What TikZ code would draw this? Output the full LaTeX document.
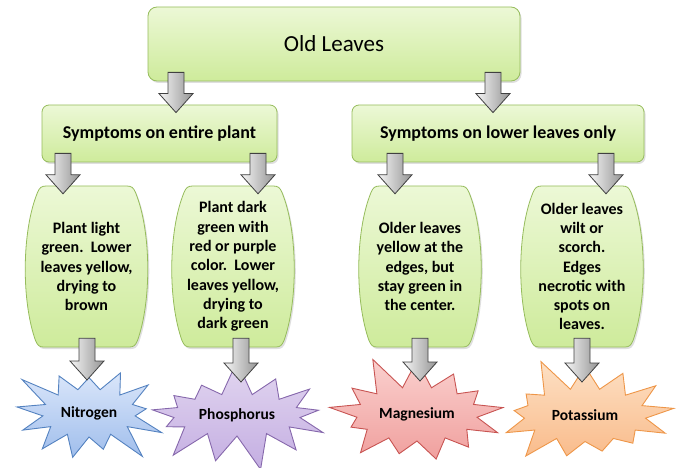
\documentclass[tikz,border=0pt]{standalone}
\usepackage{fontspec}
\setmainfont{Carlito}
\usetikzlibrary{calc,shapes.symbols,backgrounds,shadows}

\definecolor{leaftop}{RGB}{236,248,214}
\definecolor{leafbot}{RGB}{206,235,155}
\definecolor{leafedge}{RGB}{150,188,92}
\definecolor{nitrotop}{RGB}{218,230,250}
\definecolor{nitrobot}{RGB}{160,190,236}
\definecolor{nitroedge}{RGB}{84,130,192}
\definecolor{phostop}{RGB}{226,214,240}
\definecolor{phosbot}{RGB}{196,174,226}
\definecolor{phosedge}{RGB}{134,104,172}
\definecolor{magntop}{RGB}{250,208,206}
\definecolor{magnbot}{RGB}{240,160,158}
\definecolor{magnedge}{RGB}{200,84,82}
\definecolor{potastop}{RGB}{253,224,196}
\definecolor{potasbot}{RGB}{249,188,140}
\definecolor{potasedge}{RGB}{238,150,72}

% block arrow from the foot of one node to a point on the next
\newcommand{\bigarrow}[4][8]{%
  \draw[blockarrow] let \p1=(#2.south), \p2=($(#3)+(0,#1)$) in
    (#4pt-8pt,\y1+9pt) -- (#4pt+8pt,\y1+9pt) -- (#4pt+8pt,\y2+19pt)
    -- (#4pt+17pt,\y2+19pt) -- (#4pt,\y2)
    -- (#4pt-17pt,\y2+19pt) -- (#4pt-8pt,\y2+19pt) -- cycle;}

% barrel outline behind a symptom node
\newcommand{\barrel}[1]{%
  \begin{scope}[on background layer]
    \draw[barrelline] ($(#1)+(-40,-80.5)$) -- ($(#1)+(40,-80.5)$)
      .. controls ($(#1)+(45,-80.5)$) and ($(#1)+(47,-79)$) .. ($(#1)+(49,-74)$)
      .. controls ($(#1)+(65,-35)$) and ($(#1)+(65,35)$) .. ($(#1)+(51,74)$)
      .. controls ($(#1)+(49,79)$) and ($(#1)+(47,80.5)$) .. ($(#1)+(43,80.5)$)
      -- ($(#1)+(-43,80.5)$)
      .. controls ($(#1)+(-47,80.5)$) and ($(#1)+(-49,79)$) .. ($(#1)+(-51,74)$)
      .. controls ($(#1)+(-65,35)$) and ($(#1)+(-65,-35)$) .. ($(#1)+(-49,-74)$)
      .. controls ($(#1)+(-47,-79)$) and ($(#1)+(-45,-80.5)$) .. cycle;
  \end{scope}}

\begin{document}
\begin{tikzpicture}[
  x=1pt, y=-1pt,
  font=\fontsize{16}{19.3}\selectfont\bfseries,
  leafbox/.style={
    draw=leafedge, line width=0.8pt, top color=leaftop, bottom color=leafbot,
    drop shadow={shadow xshift=1.5pt, shadow yshift=-2pt, opacity=0.25}
  },
  headbox/.style={
    leafbox, rounded corners=9pt, minimum width=372pt, minimum height=74pt,
    font=\fontsize{23}{26}\selectfont\mdseries
  },
  groupbox/.style={
    leafbox, rounded corners=7pt, minimum height=57pt,
    font=\fontsize{18}{21}\selectfont\bfseries
  },
  barrelline/.style={leafbox},
  symptom/.style={align=center, minimum width=123pt, minimum height=161pt, inner sep=0pt},
  burst/.style={
    starburst, starburst points=13, starburst point height=36pt,
    line width=0.9pt, inner sep=1pt,
    font=\fontsize{15.5}{18}\selectfont\bfseries
  },
  blockarrow/.style={draw=black!75, line width=0.8pt, left color=black!4, right color=black!42},
]
\useasboundingbox (0,0) rectangle (683,468);

% ---- row 1: the leaves ---------------------------------------------------
\node[headbox] (old) at (334,44) {Old Leaves};

% ---- row 2: where the symptoms show --------------------------------------
\node[groupbox, minimum width=235pt] (entire) at (159.5,133.5) {Symptoms on entire plant};
\node[groupbox, minimum width=292pt] (lower)  at (498,133.5) {Symptoms on lower leaves only};

% ---- row 3: the symptoms -------------------------------------------------
\node[symptom] (light) at (86.5,266.5)
  {Plant light\\green.\ \ Lower\\leaves yellow,\\drying to\\brown};
\node[symptom] (dark) at (233,266.5)
  {Plant dark\\green with\\red or purple\\color.\ \ Lower\\leaves yellow,\\drying to\\dark green};
\node[symptom] (edges) at (420,266.5)
  {Older leaves\\yellow at the\\edges, but\\stay green in\\the center.};
\node[symptom] (wilt) at (582,266.5)
  {Older leaves\\wilt or\\scorch.\\Edges\\necrotic with\\spots on\\leaves.};
\barrel{light}
\barrel{dark}
\barrel{edges}
\barrel{wilt}

% ---- row 4: the missing nutrient -----------------------------------------
\node[burst, random starburst=3, draw=nitroedge, top color=nitrotop, bottom color=nitrobot,
  minimum width=165pt, minimum height=120pt] (nitro) at (89,413) {Nitrogen};
\node[burst, random starburst=7, draw=phosedge, top color=phostop, bottom color=phosbot,
  minimum width=199pt, minimum height=114pt] (phos) at (237,415) {Phosphorus};
\node[burst, random starburst=11, draw=magnedge, top color=magntop, bottom color=magnbot,
  minimum width=193pt, minimum height=126pt] (magn) at (417,414) {Magnesium};
\node[burst, random starburst=5, draw=potasedge, top color=potastop, bottom color=potasbot,
  minimum width=194pt, minimum height=125pt] (potas) at (585,415) {Potassium};

% ---- arrows --------------------------------------------------------------
\bigarrow{old}{entire.north}{176}
\bigarrow{old}{lower.north}{493}
\bigarrow{entire}{light.north}{63}
\bigarrow{entire}{dark.north}{258}
\bigarrow{lower}{edges.north}{395}
\bigarrow{lower}{wilt.north}{606}
\bigarrow[-33]{light}{nitro.center}{87}
\bigarrow[-33]{dark}{phos.center}{241}
\bigarrow[-33]{edges}{magn.center}{420}
\bigarrow[-33]{wilt}{potas.center}{582}

\end{tikzpicture}
\end{document}
